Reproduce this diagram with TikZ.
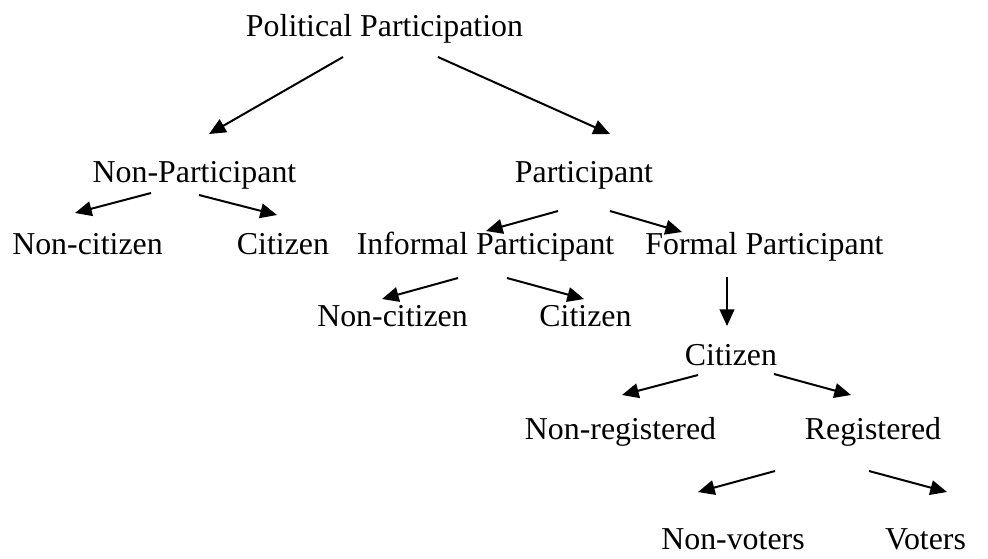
\documentclass[tikz,border=0pt]{standalone}
\usepackage{fontspec}
\setmainfont{Liberation Serif}
\usetikzlibrary{arrows.meta}
\begin{document}
\begin{tikzpicture}[x=0.75pt,y=-0.75pt,
  lbl/.style={anchor=base,inner sep=0pt,font=\fontsize{23.9}{28}\selectfont},
  arr/.style={line width=1.5pt,-{Triangle[length=12.5pt,width=11pt]}}]
\useasboundingbox (0,0) rectangle (988,558);
% labels
\node[lbl] (pp) at (384.5,36) {Political Participation};
\node[lbl] (np) at (194.5,182) {Non-Participant};
\node[lbl] (p) at (584,182) {Participant};
\node[lbl] (nc1) at (87.5,254) {Non-citizen};
\node[lbl] (c1) at (283,254) {Citizen};
\node[lbl] (ip) at (485.5,254) {Informal Participant};
\node[lbl] (fp) at (764.5,254) {Formal Participant};
\node[lbl] (nc2) at (392.5,326) {Non-citizen};
\node[lbl] (c2) at (585.5,326) {Citizen};
\node[lbl] (c3) at (731,365) {Citizen};
\node[lbl] (nr) at (620.5,439) {Non-registered};
\node[lbl] (reg) at (873,439) {Registered};
\node[lbl] (nv) at (733,549) {Non-voters};
\node[lbl] (v) at (925.5,549) {Voters};
% arrow endpoints
\coordinate (a1s) at (343,57);  \coordinate (a1e) at (209,134);
\coordinate (a2s) at (438,57);  \coordinate (a2e) at (610,134);
\coordinate (a3s) at (151,193); \coordinate (a3e) at (75,213);
\coordinate (a4s) at (199,195); \coordinate (a4e) at (277,215);
\coordinate (a5s) at (558,211); \coordinate (a5e) at (486,231);
\coordinate (a6s) at (610,211); \coordinate (a6e) at (682,232);
\coordinate (a7s) at (458,278); \coordinate (a7e) at (382,299);
\coordinate (a8s) at (507,278); \coordinate (a8e) at (584,299);
\coordinate (a9s) at (727,277); \coordinate (a9e) at (727,326);
\coordinate (a10s) at (698,375); \coordinate (a10e) at (622,395);
\coordinate (a11s) at (774,374); \coordinate (a11e) at (851,395);
\coordinate (a12s) at (775,471); \coordinate (a12e) at (698,492);
\coordinate (a13s) at (869,471); \coordinate (a13e) at (947,492);
% arrows
\foreach \i in {1,...,13} {\draw[arr] (a\i s) -- (a\i e);}
\end{tikzpicture}
\end{document}
